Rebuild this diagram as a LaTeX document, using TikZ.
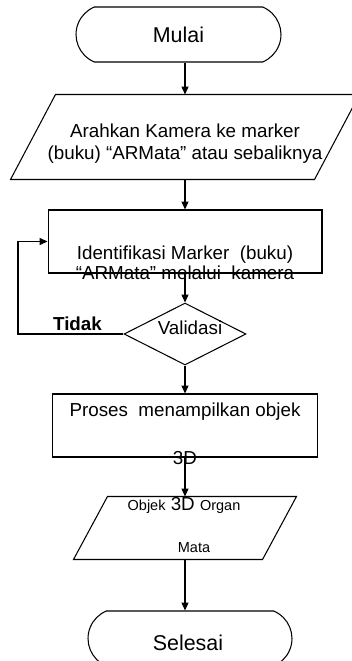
\documentclass[tikz,border=0pt]{standalone}
\usepackage{fontspec}
\setmainfont{Liberation Sans}
\usetikzlibrary{shapes.geometric,shapes.misc,arrows.meta}
\tikzset{
    terminal/.style={draw, rounded rectangle, rounded rectangle arc length=135, minimum width=4.1cm, minimum height=1.1cm, inner sep=0pt, font=\fontsize{12.2}{14}\selectfont},
    io/.style={rectangle, inner sep=0pt},
    prosesbox/.style={draw, rectangle, inner sep=0pt},
    decision/.style={draw, diamond, inner sep=0pt, minimum width=2.44cm, minimum height=1.24cm},
    teks/.style={inner sep=0pt, align=center, font=\fontsize{10.7}{12.5}\selectfont},
    teksk/.style={inner sep=0pt, font=\fontsize{8.25}{10}\selectfont},
    arr/.style={-{Triangle[length=4.5pt,width=4pt]}}
}
\begin{document}
\begin{tikzpicture}[x=0.02cm, y=-0.02cm, line width=0.6pt]
            \useasboundingbox (0,0) rectangle (351,661);
            \node[terminal] (mulai) at (178.5,34.5) {Mulai};
            \node[io, minimum width=6.96cm, minimum height=1.68cm] (arahkan) at (185,137) {};
            \draw ([xshift=0.9cm]arahkan.north west) -- (arahkan.north east) -- ([xshift=-0.9cm]arahkan.south east) -- (arahkan.south west) -- cycle;
            \node[teks] (arahkanteks) at (185,144) {Arahkan Kamera ke marker\\(buku) “ARMata” atau sebaliknya};
            \node[prosesbox, minimum width=5.48cm, minimum height=1.26cm] (identif) at (185,241.5) {};
            \node[teks, font=\fontsize{10.7}{11.4}\selectfont] (identifteks) at (185,263) {Identifikasi Marker\ \ (buku)\\“ARMata” melalui\ \ kamera};
            \node[decision] (validasi) at (185,334) {};
            \node[teks] (validasiteks) at (190,328) {Validasi};
            \node[teks, font=\bfseries\fontsize{10.7}{12.5}\selectfont, anchor=base] (tidak) at (77.5,331) {Tidak};
            \coordinate (kiri) at (18,334);
            \node[prosesbox, minimum width=5.3cm, minimum height=1.26cm] (proses) at (185,425.5) {};
            \node[teks] (prosesteks) at (185,412) {Proses\ \ menampilkan objek};
            \node[teks] (tigad) at (185,458) {3D};
            \node[io, minimum width=4.44cm, minimum height=1.24cm] (objek) at (185,528) {};
            \draw ([xshift=0.68cm]objek.north west) -- (objek.north east) -- ([xshift=-0.68cm]objek.south east) -- (objek.south west) -- cycle;
            \node[teks] (objekteks) at (184,505) {{\fontsize{8.25}{10}\selectfont Objek} 3D {\fontsize{8.25}{10}\selectfont Organ}};
            \node[teksk] (mata) at (194,548) {Mata};
            \node[terminal, minimum width=4.08cm] (selesai) at (190,638.5) {};
            \node[teks, font=\fontsize{12.2}{14}\selectfont] (selesaiteks) at (188,643) {Selesai};
            \draw[arr] (mulai.south -| arahkan.north) -- (arahkan.north);
            \draw[arr] (arahkan.south) -- (identif.north);
            \draw[arr] (identif.south) -- (validasi.north);
            \draw[arr] (validasi.west) -- (kiri) |- (identif.west);
            \draw[arr] (validasi.south) -- (proses.north);
            \draw[arr] (proses.south) -- (objek.north);
            \draw[arr] (objek.south) -- (objek.south |- selesai.north);
        \end{tikzpicture}
\end{document}
